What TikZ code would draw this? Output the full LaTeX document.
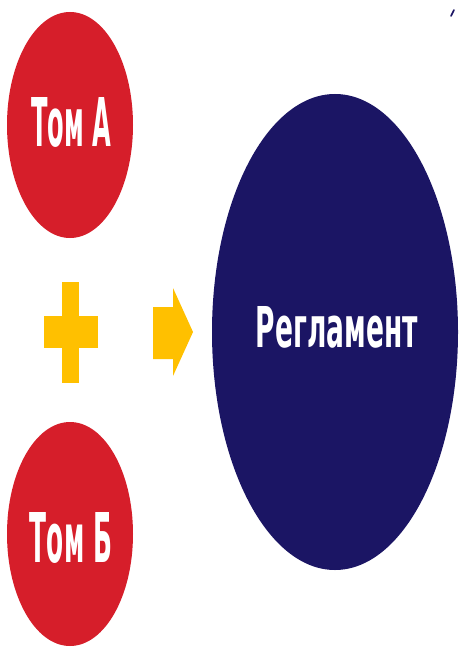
\documentclass[tikz,border=0pt]{standalone}
\usepackage{fontspec}
\usepackage{graphicx}
\setmainfont{DejaVu Sans}
\usetikzlibrary{shapes.geometric}
\definecolor{tomred}{RGB}{214,30,42}
\definecolor{navy}{RGB}{27,21,100}
\definecolor{amber}{RGB}{255,192,0}
\tikzset{
  blob/.style={ellipse, draw=none, inner sep=0pt},
  caption/.style={text=white, inner sep=0pt, font=\bfseries}
}
\begin{document}
\begin{tikzpicture}[x=1pt, y=-1pt]
\useasboundingbox[fill=white] (0,0) rectangle (460,658);
% volumes
\node[blob, fill=tomred, minimum width=126pt, minimum height=226pt] (tomA) at (70,125) {};
\node[blob, fill=tomred, minimum width=126pt, minimum height=224pt] (tomB) at (70,534) {};
\node[blob, fill=navy, minimum width=246pt, minimum height=476pt] (regl) at (335,332) {};
% texts
\node[caption] (tA) at (71,122.5) {\resizebox{80pt}{49pt}{Том А}};
\node[caption] (tB) at (71,538) {\resizebox{82pt}{50pt}{Том Б}};
\node[caption] (tR) at (337,327.5) {\resizebox{162pt}{41pt}{Регламент}};
% plus sign
\fill[amber] (62,282) rectangle (79,383);
\fill[amber] (44,316) rectangle (98,348);
% arrow
\fill[amber] (153,307) -- (173,307) -- (173,288) -- (193,332) -- (173,376) -- (173,359) -- (153,359) -- cycle;
% small mark
\draw[navy, line width=1.6pt, line cap=round] (454,10) -- (451,16);
\end{tikzpicture}
\end{document}
